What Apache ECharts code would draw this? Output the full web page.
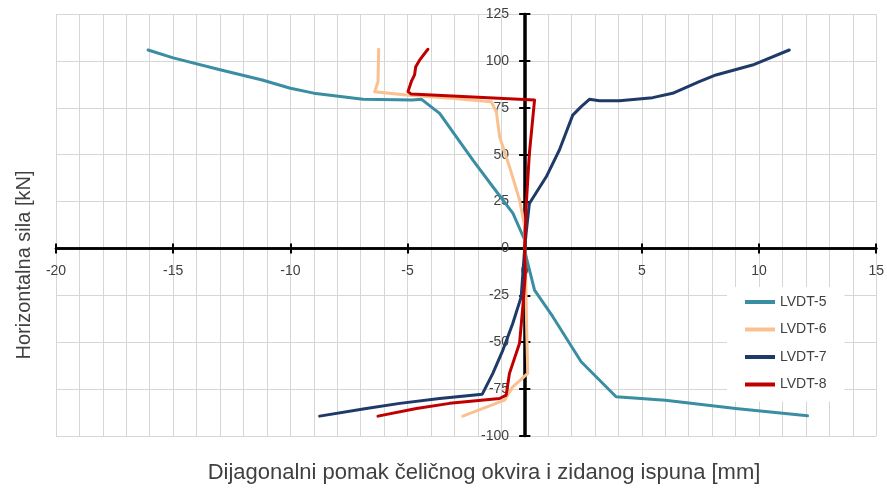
<!DOCTYPE html>
<html>
<head>
<meta charset="utf-8">
<script src="https://cdn.jsdelivr.net/npm/echarts@6/dist/echarts.min.js"></script>
<style>
  html, body { margin: 0; padding: 0; background: #fff; }
  #chart { width: 887px; height: 490px; }
</style>
</head>
<body>
<div id="chart"></div>
<script>
// Displacement [mm] vs. horizontal force [kN], pairs of [x, y]
const lvdt5 = [
  [-16.07, 105.8], [-15.0, 101.6], [-13.0, 95.3], [-11.2, 89.8], [-10.0, 85.4],
  [-9.0, 82.8], [-6.9, 79.6], [-4.8, 79.1], [-4.4, 79.5], [-3.63, 72.0],
  [-2.21, 47.1], [-1.36, 32.9], [-0.5, 18.7], [0, 4.5], [0, 0],
  [0.06, -4.4], [0.42, -22.2], [1.2, -36.4], [2.41, -60.4], [3.9, -79.1],
  [6.0, -80.9], [9.0, -85.3], [12.07, -89.2]
];
const lvdt6 = [
  [-6.23, 106.2], [-6.26, 88.9], [-6.4, 83.6], [-5.05, 81.8], [-3.0, 80.0],
  [-1.43, 78.2], [-1.21, 72.9], [-1.07, 59.6], [-0.65, 43.6], [-0.22, 25.8],
  [0, 11.6], [0, 0], [0.05, -20], [0.08, -40], [0.13, -66.6],
  [-0.51, -73.8], [-0.86, -80.9], [-2.64, -89.4]
];
const lvdt7 = [
  [-8.75, -89.4], [-6.76, -85.3], [-5.33, -82.6], [-3.63, -80.0], [-1.81, -77.7],
  [-1.36, -66.6], [-0.93, -54.2], [-0.51, -40.0], [-0.15, -25.8], [0, 0],
  [0.06, 8.0], [0.2, 24.0], [0.92, 38.2], [1.48, 52.5], [2.05, 71.1],
  [2.41, 75.6], [2.76, 79.5], [3.19, 78.8], [4.04, 78.8], [5.46, 80.4],
  [6.31, 82.7], [7.45, 88.9], [8.16, 92.5], [9.72, 97.8], [11.29, 105.8]
];
const lvdt8 = [
  [-6.26, -89.4], [-4.62, -85.3], [-3.2, -82.6], [-1.07, -80.0], [-0.79, -78.2],
  [-0.65, -66.6], [-0.22, -50.6], [-0.08, -31.1], [0.03, -13.3], [0, 0],
  [0.06, 22.2], [0.2, 50.7], [0.42, 79.1], [-4.84, 82.3], [-4.98, 83.6],
  [-4.84, 88.9], [-4.7, 92.5], [-4.65, 96.9], [-4.48, 100.5], [-4.13, 106.2]
];

const seriesNames = ['LVDT-5', 'LVDT-6', 'LVDT-7', 'LVDT-8'];
const seriesData = [lvdt5, lvdt6, lvdt7, lvdt8];
const seriesColors = ['#3A8EA3', '#FAC090', '#1F3A68', '#C00000'];

const xTitle = 'Dijagonalni pomak čeličnog okvira i zidanog ispuna [mm]';
const yTitle = 'Horizontalna sila [kN]';

const xMin = -20, xMax = 15, xStep = 5;
const yMin = -100, yMax = 125, yStep = 25;

const textColor = '#404040';
const gridColor = '#d6d6d6';
const font = 'Liberation Sans, Arial, sans-serif';

// Plot rectangle in pixels
const W = 887, H = 490;
const gLeft = 56, gRight = 10, gTop = 14, gBottom = 54;
const plotW = W - gLeft - gRight;
const plotH = H - gTop - gBottom;

// Pixel position of the zero lines, so the axes can cross through the origin
const zeroX = gLeft + plotW * (0 - xMin) / (xMax - xMin);
const zeroY = gTop + plotH * (yMax - 0) / (yMax - yMin);

const chart = echarts.init(document.getElementById('chart'), null, { renderer: 'canvas' });

const axisLineStyle = { color: '#000', width: 2.5 };
const tickStyle = { color: '#000', width: 2 };

chart.setOption({
  animation: false,
  textStyle: { fontFamily: font },
  grid: { left: gLeft, right: gRight, top: gTop, bottom: gBottom, containLabel: false },
  legend: {
    data: seriesNames,
    orient: 'vertical',
    left: 727,
    top: 287,
    padding: [8, 18, 10, 18],
    itemGap: 13.5,
    itemWidth: 30,
    itemHeight: 4,
    icon: 'rect',
    backgroundColor: '#fff',
    textStyle: { color: textColor, fontSize: 14, fontFamily: font }
  },
  xAxis: [
    {
      type: 'value', min: xMin, max: xMax, interval: xStep,
      position: 'bottom',
      offset: -(gTop + plotH - zeroY),
      axisLine: { show: true, onZero: false, lineStyle: axisLineStyle },
      axisTick: { show: true, length: 5, lineStyle: tickStyle },
      axisLabel: { color: textColor, fontSize: 14, margin: 16 },
      splitLine: { show: true, lineStyle: { color: gridColor, width: 1 } },
      minorTick: { show: false, splitNumber: 5 },
      minorSplitLine: { show: true, lineStyle: { color: gridColor, width: 1 } }
    },
    {
      type: 'value', min: xMin, max: xMax, interval: xStep,
      position: 'top',
      offset: -(zeroY - gTop),
      axisLine: { show: true, onZero: false, lineStyle: axisLineStyle },
      axisTick: { show: true, length: 5, lineStyle: tickStyle },
      axisLabel: { show: false },
      splitLine: { show: false }
    }
  ],
  yAxis: [
    {
      type: 'value', min: yMin, max: yMax, interval: yStep,
      position: 'left',
      offset: -(zeroX - gLeft),
      axisLine: { show: true, onZero: false, lineStyle: axisLineStyle },
      axisTick: { show: true, length: 6, lineStyle: tickStyle },
      axisLabel: { color: textColor, fontSize: 14, margin: 16 },
      splitLine: { show: true, lineStyle: { color: gridColor, width: 1 } }
    },
    {
      type: 'value', min: yMin, max: yMax, interval: yStep,
      position: 'right',
      offset: -(gLeft + plotW - zeroX),
      axisLine: { show: true, onZero: false, lineStyle: axisLineStyle },
      axisTick: { show: true, length: 6, lineStyle: tickStyle },
      axisLabel: { show: false },
      splitLine: { show: false }
    }
  ],
  graphic: [
    {
      type: 'text', x: 484, y: 473,
      style: { text: xTitle, fill: textColor, fontSize: 22, fontFamily: font, align: 'center', verticalAlign: 'middle' }
    },
    {
      type: 'text', x: 24, y: 265, rotation: Math.PI / 2,
      style: { text: yTitle, fill: textColor, fontSize: 20, fontFamily: font, align: 'center', verticalAlign: 'middle' },
      originX: 0, originY: 0
    }
  ],
  series: seriesNames.map((name, i) => ({
    name: name,
    type: 'line',
    xAxisIndex: 0,
    yAxisIndex: 0,
    data: seriesData[i],
    showSymbol: false,
    symbol: 'none',
    smooth: false,
    color: seriesColors[i],
    lineStyle: { width: 3, color: seriesColors[i], join: 'round', cap: 'round' }
  }))
});
</script>
</body>
</html>
